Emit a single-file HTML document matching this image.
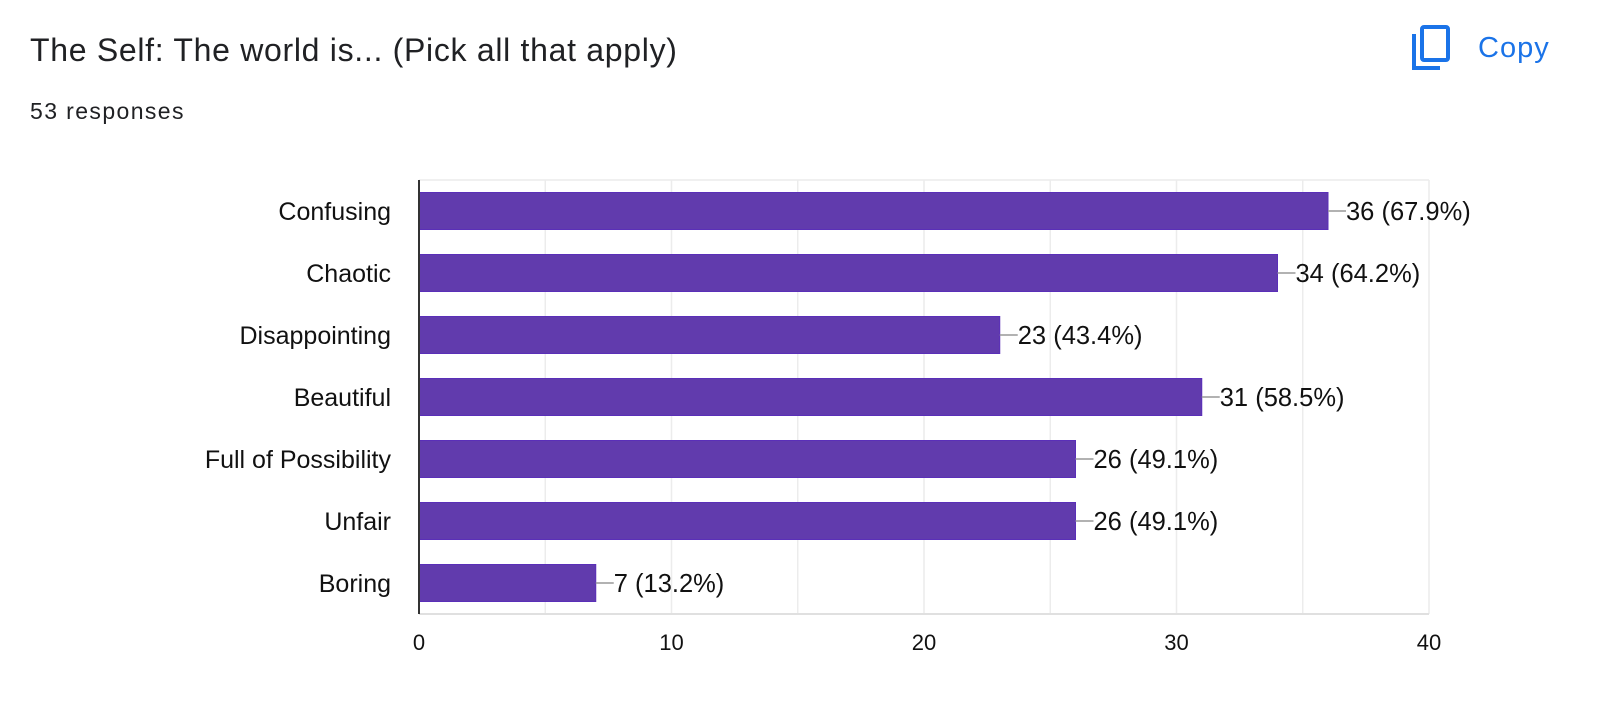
<!DOCTYPE html>
<html><head><meta charset="utf-8"><style>
body{margin:0;width:1600px;height:702px;background:#fff;font-family:"Liberation Sans",Arial,sans-serif;overflow:hidden;position:relative}
.title{position:absolute;left:30px;top:32px;font-size:32px;letter-spacing:0.7px;color:#202124}
.sub{position:absolute;left:30px;top:98px;font-size:23px;letter-spacing:1.4px;color:#202124}
.copy{position:absolute;left:1410px;top:24px;display:flex;align-items:center;color:#1a73e8;font-size:29px;letter-spacing:1px}
</style></head><body>
<div class="title">The Self: The world is... (Pick all that apply)</div>
<div class="sub">53 responses</div>
<div class="copy">
<svg width="44" height="48" viewBox="0 0 44 48"><path d="M4 10 V44 H30" fill="none" stroke="#1a73e8" stroke-width="4"/><rect x="12" y="3" width="26" height="33" rx="2" fill="none" stroke="#1a73e8" stroke-width="4"/></svg>
<span style="margin-left:24px">Copy</span></div>
<svg id="chart" width="1600" height="702" style="position:absolute;left:0;top:0"></svg>
<script>
const categories=["Confusing","Chaotic","Disappointing","Beautiful","Full of Possibility","Unfair","Boring"];
const values=[36,34,23,31,26,26,7];
const labels=["36 (67.9%)","34 (64.2%)","23 (43.4%)","31 (58.5%)","26 (49.1%)","26 (49.1%)","7 (13.2%)"];
const ticks=[0,10,20,30,40];
const gridTicks=[5,10,15,20,25,30,35,40];
const svg=document.getElementById('chart');const NS='http://www.w3.org/2000/svg';
const x0=419,x1=1429,plotTop=180,rowH=62,barH=37,maxV=40;
const xs=v=>x0+(x1-x0)*v/maxV;
function mk(t,a){const e=document.createElementNS(NS,t);for(const k in a)e.setAttribute(k,a[k]);svg.appendChild(e);return e;}
const plotBottom=plotTop+rowH*categories.length;
gridTicks.forEach(t=>{const g=mk('line',{x1:xs(t),x2:xs(t),y1:plotTop,y2:plotBottom,stroke:'#ececec','stroke-width':1.5});

});
mk('line',{x1:x0,x2:x1,y1:plotTop,y2:plotTop,stroke:'#ececec','stroke-width':1.5});
const bl=mk('line',{x1:x0,x2:x1,y1:plotBottom,y2:plotBottom,stroke:'#e0e0e0','stroke-width':2});


categories.forEach((c,i)=>{const cy=plotTop+rowH*i+rowH/2;
const r=mk('rect',{x:x0,y:cy-barH/2,width:xs(values[i])-x0,height:barH,fill:'#613bad',stroke:'#5a2fb8','stroke-width':1});


const t=mk('text',{x:391,y:cy+9,'text-anchor':'end','font-size':25,fill:'#111'});t.textContent=c;


const ex=xs(values[i]);mk('line',{x1:ex,x2:ex+18,y1:cy,y2:cy,stroke:'#999','stroke-width':1.5});
const v=mk('text',{x:ex+18,y:cy+9,'font-size':25.5,fill:'#111'});v.textContent=labels[i];

});
const ax=mk('line',{x1:x0,x2:x0,y1:plotTop,y2:plotBottom,stroke:'#333','stroke-width':2});


ticks.forEach(t=>{const e=mk('text',{x:xs(t),y:650,'text-anchor':'middle','font-size':22,fill:'#111'});e.textContent=t;

});
</script>
</body></html>
